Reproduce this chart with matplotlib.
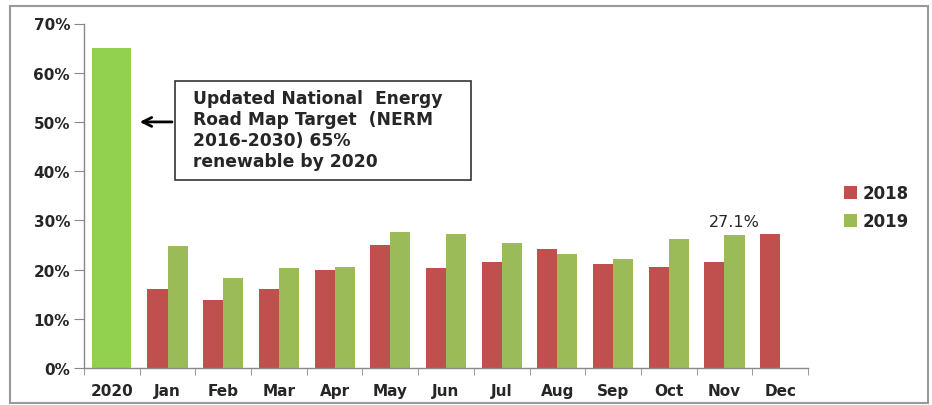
import matplotlib
matplotlib.use("Agg")
import matplotlib.pyplot as plt
from matplotlib.patches import Rectangle
from matplotlib.ticker import FixedLocator, PercentFormatter

categories = ["2020", "Jan", "Feb", "Mar", "Apr", "May", "Jun", "Jul", "Aug", "Sep", "Oct", "Nov", "Dec"]
target_2020 = 0.65
months = categories[1:]
vals_2018 = [0.160, 0.138, 0.160, 0.199, 0.250, 0.203, 0.216, 0.241, 0.212, 0.205, 0.216, 0.273]
vals_2019 = [0.247, 0.182, 0.203, 0.206, 0.277, 0.273, 0.253, 0.231, 0.222, 0.262, 0.271]
yticks = [0, 0.1, 0.2, 0.3, 0.4, 0.5, 0.6, 0.7]
note = "Updated National  Energy\nRoad Map Target  (NERM\n2016-2030) 65%\nrenewable by 2020"

RED = "#C0504D"
GREEN = "#9BBB59"
BRIGHT = "#92D050"
TXT = "#262626"

fig = plt.figure(figsize=(9.32, 4.06), dpi=100)
ax = fig.add_axes([84/932, 1-369/406, (808-84)/932, (369-24.5)/406])

w = 0.36
x_m = list(range(1, 13))
ax.bar([0], [target_2020], width=0.70, color=BRIGHT, zorder=2)
ax.bar([x - w/2 for x in x_m], vals_2018, width=w, color=RED, label="2018", zorder=2)
ax.bar([x + w/2 for x in x_m[:len(vals_2019)]], vals_2019, width=w, color=GREEN, label="2019", zorder=2)

ax.set_xlim(-0.5, 12.5)
ax.set_ylim(0, 0.7)
ax.set_yticks(yticks)
ax.yaxis.set_major_formatter(PercentFormatter(1.0, decimals=0))
ax.set_xticks(range(13))
ax.set_xticklabels(categories)
ax.xaxis.set_minor_locator(FixedLocator([i - 0.5 for i in range(14)]))
ax.tick_params(axis="x", which="major", length=0, pad=11)
ax.tick_params(axis="x", which="minor", length=5, color="#888888", direction="out")
ax.tick_params(axis="y", length=7, color="#888888", direction="out", pad=3)
for lab in ax.get_xticklabels() + ax.get_yticklabels():
    lab.set_fontweight("bold")
    lab.set_fontsize(11)
    lab.set_color(TXT)
for s in ["top", "right"]:
    ax.spines[s].set_visible(False)
for s in ["left", "bottom"]:
    ax.spines[s].set_color("#888888")
    ax.spines[s].set_linewidth(1)

# data label
ax.text(11 + w/2, vals_2019[10] + 0.012, "27.1%", ha="center", va="bottom", fontsize=11.5, color=TXT)

# annotation box
bx0, bx1 = 1.13, 6.44
by0, by1 = 0.383, 0.583
ax.add_patch(Rectangle((bx0, by0), bx1 - bx0, by1 - by0, facecolor="white",
                       edgecolor="#333333", linewidth=1.2, zorder=3))
ax.text(1.45, (by0 + by1)/2 + 0.002, note, ha="left", va="center", fontsize=12.3,
        fontweight="bold", color=TXT, linespacing=1.2, zorder=4)
ax.annotate("", xy=(0.45, 0.5), xytext=(bx0, 0.5),
            arrowprops=dict(arrowstyle="->", color="black", lw=2, mutation_scale=16), zorder=4)

leg = fig.legend(loc="upper left", bbox_to_anchor=(829/932, 1-170/406), frameon=False,
                 handlelength=0.8, handleheight=0.8, handletextpad=0.3, labelspacing=0.6,
                 prop={"weight": "bold", "size": 12})
for t in leg.get_texts():
    t.set_color(TXT)

fig.patches.append(Rectangle((10/932, 1-404/406), (928-10)/932, (404-7)/406,
                             transform=fig.transFigure, fill=False, edgecolor="#999999",
                             linewidth=1.5))

fig.savefig("out.png", dpi=100, facecolor="white")
